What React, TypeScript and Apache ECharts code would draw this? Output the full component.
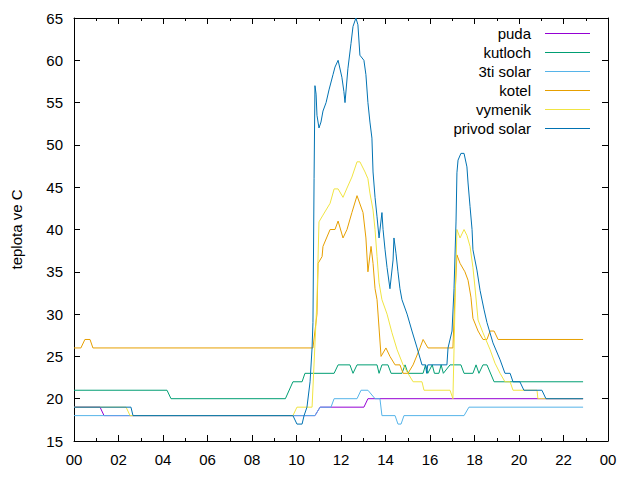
import React, { useEffect, useRef } from "react";
import * as echarts from "echarts";

// time in hours (0-24), temperature in °C
const puda: [number, number][] = [
  [0, 19], [1.17, 19], [1.35, 18], [10.83, 18], [11.06, 19], [13.03, 19], [13.21, 20], [22.88, 20],
];
const kutloch: [number, number][] = [
  [0, 21], [4.18, 21], [4.36, 20], [9.5, 20], [9.84, 22], [10.25, 22], [10.38, 23], [11.69, 23],
  [11.87, 24], [12.4, 24], [12.54, 23], [12.72, 24], [13.62, 24], [13.71, 23], [13.84, 24],
  [14.11, 24], [14.25, 23], [14.74, 23], [14.88, 24], [15.01, 23], [15.69, 23], [15.8, 24],
  [15.9, 23], [16.1, 24], [16.2, 23], [16.4, 23], [16.5, 24], [16.6, 23], [16.9, 24], [17.39, 24],
  [17.53, 23], [17.93, 23], [18.07, 24], [18.2, 23], [18.38, 24], [18.56, 24], [18.88, 22], [22.88, 22],
];
const solar3ti: [number, number][] = [
  [0, 18], [10.83, 18], [11.06, 19], [11.55, 19], [11.69, 20], [12.72, 20], [12.9, 21], [13.21, 21],
  [13.53, 20], [13.75, 20], [13.84, 18], [14.43, 18], [14.56, 17], [14.7, 17], [14.83, 18],
  [17.53, 18], [17.75, 19], [22.88, 19],
];
const kotel: [number, number][] = [
  [0, 26], [0.31, 26], [0.49, 27], [0.72, 27], [0.85, 26], [10.74, 26], [10.92, 30], [10.97, 36],
  [11.15, 36.8], [11.19, 38], [11.51, 40], [11.73, 40], [11.87, 41], [12.09, 39], [12.27, 40],
  [12.49, 42], [12.72, 44], [12.99, 42], [13.12, 39], [13.21, 35], [13.35, 38], [13.44, 36],
  [13.53, 33], [13.62, 31.7], [13.8, 25], [14.02, 26], [14.2, 25], [14.43, 24], [14.65, 24],
  [14.79, 23], [15.01, 23], [15.24, 24], [15.55, 26], [15.69, 27], [15.91, 26], [17.03, 26],
  [17.12, 32], [17.21, 37], [17.35, 36], [17.57, 35], [17.71, 34], [17.84, 32], [17.93, 29.5],
  [18.16, 28], [18.38, 27], [18.56, 27], [18.7, 28], [18.88, 28], [19.06, 27], [22.88, 27],
];
const vymenik: [number, number][] = [
  [0, 19], [2.34, 19], [2.52, 18], [9.84, 18], [10.02, 19], [10.7, 19], [10.92, 31.7], [11.01, 40.9],
  [11.19, 41.7], [11.51, 43.1], [11.69, 44.8], [11.87, 44.8], [12.09, 43.8], [12.27, 44.9],
  [12.49, 46.2], [12.72, 48], [12.85, 48], [13.08, 46.8], [13.21, 46], [13.3, 44.3], [13.44, 42.3],
  [13.53, 40], [13.62, 36.8], [13.71, 33.7], [13.84, 31.7], [14.07, 30], [14.29, 27.8],
  [14.52, 25.8], [14.79, 24], [15.01, 23], [15.24, 22], [15.64, 22], [15.73, 21], [16.9, 21],
  [17.03, 20], [17.12, 30.5], [17.21, 40], [17.35, 39], [17.53, 40], [17.66, 39.3], [17.8, 38],
  [17.93, 35.5], [18.02, 33.2], [18.16, 29.3], [18.38, 27.8], [18.7, 25.8], [18.92, 24.2],
  [19.15, 23], [19.37, 22], [19.6, 22], [19.73, 21], [20.81, 21], [20.85, 20], [22.88, 20],
];
const privodSolar: [number, number][] = [
  [0, 19], [2.56, 19], [2.65, 18], [9.84, 18], [10.02, 17], [10.25, 17], [10.34, 18], [10.47, 19],
  [10.61, 22], [10.7, 26], [10.74, 29], [10.79, 46], [10.83, 57], [10.88, 56], [10.92, 53.5],
  [11.01, 52], [11.1, 52.7], [11.19, 54], [11.33, 55], [11.46, 56.5], [11.64, 58.3], [11.73, 59.2],
  [11.87, 60], [12.04, 58], [12.13, 56.3], [12.18, 55], [12.31, 59], [12.45, 62], [12.54, 64],
  [12.67, 65], [12.76, 64.2], [12.85, 60.6], [13.03, 60], [13.12, 58.3], [13.21, 55], [13.3, 52.7],
  [13.39, 50.8], [13.44, 46.8], [13.53, 43.8], [13.62, 41.5], [13.71, 39], [13.84, 42], [13.89, 40],
  [13.98, 37.6], [14.07, 35.5], [14.2, 33], [14.34, 36.4], [14.38, 39], [14.47, 37.2], [14.56, 35],
  [14.65, 33], [14.74, 31.7], [14.97, 30], [15.19, 28], [15.42, 26], [15.64, 24], [15.8, 24],
  [15.85, 23], [15.9, 24], [16.76, 24], [16.81, 26], [16.99, 28], [17.08, 33], [17.17, 41],
  [17.21, 46.7], [17.26, 48.2], [17.39, 49], [17.53, 49], [17.66, 47.4], [17.71, 45.5], [17.8, 42.7],
  [17.89, 40], [17.93, 37.6], [18.11, 35.2], [18.25, 32.8], [18.43, 30.5], [18.56, 29], [18.83, 26.6],
  [19.15, 24.6], [19.37, 23], [19.6, 23], [19.73, 22], [20.04, 22], [20.22, 21], [21.03, 21],
  [21.21, 20], [22.88, 20],
];

const seriesNames = ["puda", "kutloch", "3ti solar", "kotel", "vymenik", "privod solar"];
const seriesData = [puda, kutloch, solar3ti, kotel, vymenik, privodSolar];
const seriesColors = ["#9400d3", "#009e73", "#56b4e9", "#e69f00", "#f0e442", "#0072b2"];

const yLabel = "teplota ve C";
const xMin = 0, xMax = 24, xStep = 2;
const yMin = 15, yMax = 65, yStep = 5;

const FONT = "Liberation Sans";

export default function App() {
  const ref = useRef<HTMLDivElement>(null);
  useEffect(() => {
    if (!ref.current) return;
    const chart = echarts.init(ref.current, null, { renderer: "svg" });
    const fmt = (v: number) => String(v % 24).padStart(2, "0");
    const commonX = {
      type: "value" as const,
      min: xMin, max: xMax, interval: xStep,
      axisLine: { show: true, onZero: false, lineStyle: { color: "#000", width: 1 } },
      axisTick: { show: true, inside: true, length: 6, lineStyle: { color: "#000" } },
      minorTick: { show: true, splitNumber: 2, length: 3, lineStyle: { color: "#000" } },
      splitLine: { show: false },
    };
    const commonY = {
      type: "value" as const,
      min: yMin, max: yMax, interval: yStep,
      axisLine: { show: true, onZero: false, lineStyle: { color: "#000", width: 1 } },
      axisTick: { show: true, inside: true, length: 6, lineStyle: { color: "#000" } },
      splitLine: { show: false },
    };
    const legendTop = 33, legendStep = 19;
    const graphic: any[] = [];
    seriesNames.forEach((n, i) => {
      graphic.push({
        type: "text", x: 531, y: legendTop + legendStep * i,
        style: { text: n, textAlign: "right", textVerticalAlign: "middle", font: `15px "${FONT}"`, fill: "#000" },
      });
      graphic.push({
        type: "line",
        shape: { x1: 545, y1: legendTop + legendStep * i + 0.5, x2: 590, y2: legendTop + legendStep * i + 0.5 },
        style: { stroke: seriesColors[i], lineWidth: 1 },
      });
    });
    chart.setOption({
      animation: false,
      grid: { left: 74, right: 32, top: 18, bottom: 39, show: false },
      xAxis: [
        {
          ...commonX, position: "bottom",
          axisLabel: { color: "#000", fontSize: 15, fontFamily: FONT, margin: 11, formatter: fmt },
        },
        { ...commonX, position: "top", axisLabel: { show: false } },
      ],
      yAxis: [
        {
          ...commonY, position: "left",
          name: yLabel, nameLocation: "middle", nameGap: 50, nameRotate: 90,
          nameTextStyle: { color: "#000", fontSize: 15, fontFamily: FONT },
          axisLabel: { color: "#000", fontSize: 15, fontFamily: FONT, margin: 11 },
        },
        { ...commonY, position: "right", axisLabel: { show: false } },
      ],
      series: seriesData.map((d, i) => ({
        type: "line",
        name: seriesNames[i],
        data: d,
        showSymbol: false,
        symbol: "none",
        lineStyle: { color: seriesColors[i], width: 1 },
        itemStyle: { color: seriesColors[i] },
        emphasis: { disabled: true },
      })),
      graphic,
    });
    return () => chart.dispose();
  }, []);
  return <div ref={ref} style={{ width: 640, height: 480, position: "absolute", left: 0, top: 0 }} />;
}
